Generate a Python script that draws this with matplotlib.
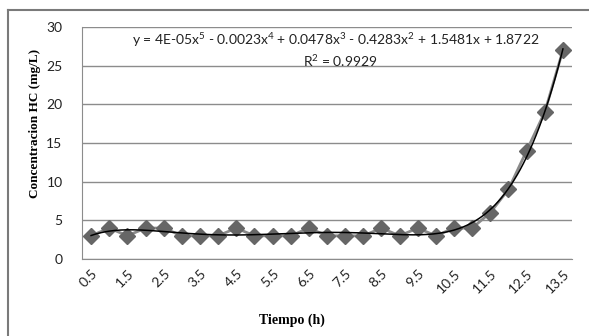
import numpy as np
import matplotlib.pyplot as plt
from matplotlib.lines import Line2D

# data
tiempo = ['0.5', '1', '1.5', '2', '2.5', '3', '3.5', '4', '4.5', '5', '5.5', '6', '6.5',
          '7', '7.5', '8', '8.5', '9', '9.5', '10', '10.5', '11', '11.5', '12', '12.5',
          '13', '13.5']
concentracion = [3, 4, 3, 4, 4, 3, 3, 3, 4, 3, 3, 3, 4, 3, 3, 3, 4, 3, 4, 3, 4, 4,
                 6, 9, 14, 19, 27]
y_ticks = [0, 5, 10, 15, 20, 25, 30]
ecuacion = (r'y = 4E-05x$\mathregular{^5}$ - 0.0023x$\mathregular{^4}$ + 0.0478x$\mathregular{^3}$'
            r' - 0.4283x$\mathregular{^2}$ + 1.5481x + 1.8722')
r2_text = r'R$\mathregular{^2}$ = 0.9929'

plt.rcParams['font.family'] = ['Lato', 'DejaVu Sans']
plt.rcParams['mathtext.fontset'] = 'custom'
plt.rcParams['mathtext.rm'] = 'Lato'

fig = plt.figure(figsize=(5.89, 3.36), dpi=100)
ax = fig.add_axes([82 / 589, 1 - 259 / 336, (572 - 82) / 589, (259 - 27) / 336])

x = np.arange(len(tiempo))
ax.plot(x, concentracion, color='#8a8a8a', lw=2, marker='D', markersize=8,
        markerfacecolor='#666666', markeredgecolor='#666666', zorder=3)

# excel polynomial trendline (order 5) on category index 1..n
xi = x + 1
coef = np.polyfit(xi, concentracion, 5)
xs = np.linspace(1, len(tiempo), 300)
ax.plot(xs - 1, np.polyval(coef, xs), color='black', lw=1.1, zorder=4)

ax.set_xlim(-0.5, len(tiempo) - 0.5)
ax.set_ylim(0, 30)
ax.set_yticks(y_ticks)
ax.set_xticks(x[::2])
ax.set_xticklabels(tiempo[::2], rotation=45, ha='right', rotation_mode='anchor')
ax.tick_params(axis='both', length=0, labelsize=10, colors='#222222')
ax.tick_params(axis='x', pad=6)
ax.tick_params(axis='y', pad=14)
ax.grid(axis='y', color='#8c8c8c', lw=1)
ax.set_axisbelow(True)
for s in ['top', 'right']:
    ax.spines[s].set_visible(False)
ax.spines['left'].set_color('#8c8c8c')
ax.spines['bottom'].set_color('#8c8c8c')

ax.text(132 / 589, 1 - 45 / 336, ecuacion, transform=fig.transFigure, fontsize=10,
        color='#222222', va='baseline', ha='left')
ax.text(303 / 589, 1 - 67 / 336, r2_text, transform=fig.transFigure, fontsize=10,
        color='#222222', va='baseline', ha='left')

fig.text(35 / 589, 1 - 123 / 336, 'Concentracion HC (mg/L)', rotation=90,
         ha='center', va='center', fontsize=9.5, fontweight='bold',
         family='Liberation Serif')
fig.text(292 / 589, 1 - 320 / 336, 'Tiempo (h)', ha='center', va='center',
         fontsize=10, fontweight='bold', family='Liberation Serif')

# outer chart frame (cropped on right and bottom)
fig.add_artist(Line2D([8 / 589, 8 / 589], [0, 1 - 10 / 336], color='#7a7a7a', lw=1.5,
                      transform=fig.transFigure))
fig.add_artist(Line2D([8 / 589, 1], [1 - 10 / 336, 1 - 10 / 336], color='#7a7a7a', lw=1.5,
                      transform=fig.transFigure))

fig.savefig('out.png', dpi=100)
